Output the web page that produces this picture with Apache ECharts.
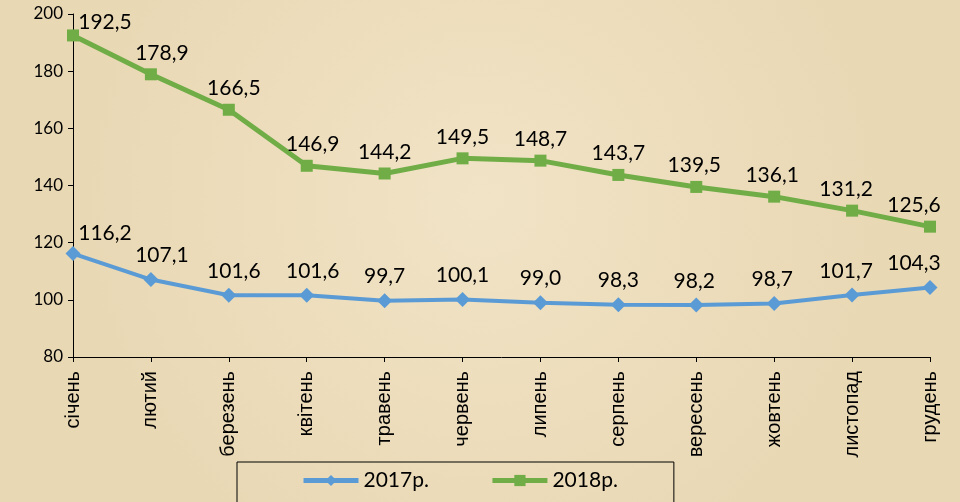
<!DOCTYPE html>
<html>
<head>
<meta charset="utf-8">
<script src="https://cdn.jsdelivr.net/npm/echarts@6/dist/echarts.min.js"></script>
<style>
  html, body { margin: 0; padding: 0; }
  #chart { width: 960px; height: 502px; }
</style>
</head>
<body>
<div id="chart"></div>
<script>
const months = ['січень', 'лютий', 'березень', 'квітень', 'травень', 'червень',
  'липень', 'серпень', 'вересень', 'жовтень', 'листопад', 'грудень'];
const values2017 = [116.2, 107.1, 101.6, 101.6, 99.7, 100.1, 99.0, 98.3, 98.2, 98.7, 101.7, 104.3];
const values2018 = [192.5, 178.9, 166.5, 146.9, 144.2, 149.5, 148.7, 143.7, 139.5, 136.1, 131.2, 125.6];
const yTicks = [80, 100, 120, 140, 160, 180, 200];

// small horizontal nudges of the data labels, like excel placed them
const labelDx = [32, 11, 5, 6, 0, 0, 0, 0, -2, -2, -6, -16];

const chart = echarts.init(document.getElementById('chart'));

function withLabels(values, dyFirst) {
  return values.map(function (v, i) {
    return {
      value: v,
      label: { offset: [labelDx[i], i === 0 ? dyFirst : 0] }
    };
  });
}

const numFont = 'Lato, "Open Sans", sans-serif';

const option = {
  backgroundColor: {
    type: 'radial', x: 0.5, y: 0.4, r: 0.8,
    colorStops: [
      { offset: 0, color: '#F1E3C6' },
      { offset: 1, color: '#E9D8B4' }
    ]
  },
  animation: false,
  grid: { left: 73, right: 30, top: 14, bottom: 145 },
  legend: {
    left: 237, top: 462,
    padding: [8, 56, 20, 64],
    borderColor: '#000', borderWidth: 1,
    itemGap: 61, itemWidth: 55, itemHeight: 14,
    lineStyle: { width: 5 },
    textStyle: { fontFamily: numFont, fontSize: 21, color: '#000' },
    data: ['2017р.', '2018р.']
  },
  xAxis: {
    type: 'category',
    data: months,
    boundaryGap: false,
    axisLine: { lineStyle: { color: '#000', width: 1 } },
    axisTick: { show: true, length: 5, lineStyle: { color: '#000' } },
    axisLabel: {
      rotate: 90, margin: 14, color: '#000',
      fontFamily: '"Liberation Sans", Arial, sans-serif', fontSize: 20
    }
  },
  yAxis: {
    type: 'value',
    min: yTicks[0], max: yTicks[yTicks.length - 1], interval: 20,
    axisLine: { show: true, lineStyle: { color: '#000', width: 1 } },
    axisTick: { show: true, length: 5, lineStyle: { color: '#000' } },
    splitLine: { show: false },
    axisLabel: { color: '#000', fontFamily: numFont, fontSize: 17, margin: 10 }
  },
  series: [
    {
      name: '2017р.',
      type: 'line',
      data: withLabels(values2017, 4),
      symbol: 'diamond', symbolSize: 15,
      lineStyle: { color: '#5B9BD5', width: 4 },
      itemStyle: { color: '#5B9BD5' },
      label: {
        show: true, position: 'top', distance: 6,
        color: '#000', fontFamily: numFont, fontSize: 21,
        formatter: function (p) { return p.value.toFixed(1).replace('.', ','); }
      }
    },
    {
      name: '2018р.',
      type: 'line',
      data: withLabels(values2018, 8),
      symbol: 'rect', symbolSize: 12,
      lineStyle: { color: '#70AD47', width: 5 },
      itemStyle: { color: '#70AD47' },
      label: {
        show: true, position: 'top', distance: 5,
        color: '#000', fontFamily: numFont, fontSize: 21,
        formatter: function (p) { return p.value.toFixed(1).replace('.', ','); }
      }
    }
  ]
};

chart.setOption(option);
</script>
</body>
</html>
